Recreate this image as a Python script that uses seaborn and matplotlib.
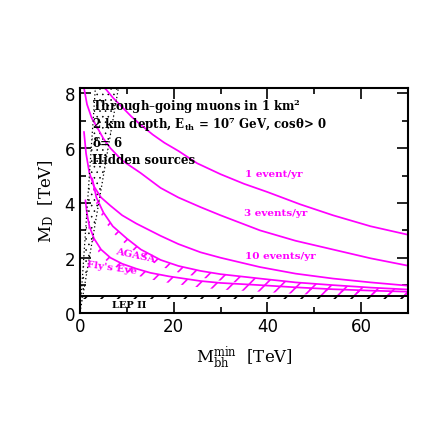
import numpy as np
import pandas as pd
import seaborn as sns
from matplotlib import pyplot as plt

# curves: M_bh^min [TeV] vs M_D [TeV]
one_x = [5.3, 7, 9, 11, 13, 15.5, 18, 21, 25, 30, 35, 40, 47, 54, 62, 70]
one_y = [8.2, 7.85, 7.5, 7.15, 6.85, 6.5, 6.2, 5.9, 5.45, 5.05, 4.7, 4.4, 3.95, 3.55, 3.15, 2.84]

three_x = [0.85, 1.5, 2.5, 3.7, 5, 6.5, 9, 12.9, 17.2, 21, 25.7, 30, 38.4, 46, 54, 62, 70]
three_y = [8.2, 7.6, 7.1, 6.75, 6.35, 6.0, 5.55, 5.1, 4.55, 4.2, 3.85, 3.55, 3.0, 2.62, 2.3, 1.98, 1.71]

ten_x = [0.85, 1.3, 2, 3, 4.5, 6.5, 9, 12, 17.2, 21, 25.7, 30, 38.4, 46, 54, 62, 70]
ten_y = [6.6, 5.8, 5.1, 4.6, 4.2, 3.9, 3.55, 3.25, 2.8, 2.5, 2.2, 2.0, 1.66, 1.42, 1.24, 1.1, 0.98]

agasa_x = [2.6, 3.5, 5, 7, 10, 13, 17.2, 21, 25.7, 30, 38.4, 46, 54, 62, 70]
agasa_y = [4.9, 4.2, 3.65, 3.15, 2.7, 2.3, 1.92, 1.7, 1.52, 1.4, 1.24, 1.1, 1.0, 0.91, 0.84]

fly_x = [1.15, 1.5, 2, 3, 4.5, 6.5, 9, 12, 15, 19, 25.7, 30, 38.4, 46, 54, 62, 70]
fly_y = [4.1, 3.6, 3.15, 2.7, 2.3, 2.0, 1.78, 1.6, 1.45, 1.32, 1.15, 1.08, 1.0, 0.92, 0.85, 0.8, 0.76]

lep_md = 0.62

# dotted region: between M_bh = 0.4 M_D and M_bh = M_D
wedge_md = [0, 8.2]

sns.set_style("ticks")
plt.rcParams['font.family'] = ['DejaVu Serif']
plt.rcParams['mathtext.fontset'] = 'dejavuserif'
plt.rcParams['hatch.linewidth'] = 1.2
for k in ['text.color', 'axes.labelcolor', 'xtick.color', 'ytick.color', 'axes.edgecolor']:
    plt.rcParams[k] = 'black'

fig = plt.figure(figsize=(4.31, 4.31), dpi=100)
ax = fig.add_axes([0.1856, 0.2726, 0.761, 0.521])

mag = '#ff00ff'
for xs, ys in [(one_x, one_y), (three_x, three_y), (ten_x, ten_y),
               (agasa_x, agasa_y), (fly_x, fly_y)]:
    df = pd.DataFrame({'mbh': xs, 'md': ys})
    sns.lineplot(data=df, x='mbh', y='md', color=mag, lw=1.25, ax=ax, sort=False)

# hatched bands below the cosmic ray bounds
for xs, ys in [(agasa_x, agasa_y), (fly_x, fly_y)]:
    ys = np.array(ys)
    ax.fill_between(xs, ys - 0.24, ys, facecolor='none', edgecolor=mag,
                    hatch='//', lw=0)

# LEP II
ax.axhline(lep_md, color='black', lw=1.4)
ax.fill_between([0, 70], lep_md - 0.12, lep_md, facecolor='none',
                edgecolor='black', hatch='//', lw=0)
ax.text(10.5, 0.3, 'LEP II', fontsize=7, fontweight='bold', ha='center', va='center')

# dotted wedge
md = np.array(wedge_md)
wedge = ax.fill_betweenx(md, 0.4 * md, md, facecolor='none', edgecolor='black',
                         hatch='...', lw=0)
if hasattr(wedge, 'set_hatch_linewidth'):
    wedge.set_hatch_linewidth(0.4)
ax.plot(md, md, color='black', ls=(0, (1, 2)), lw=0.9)
ax.plot(0.4 * md, md, color='black', ls=(0, (1, 2)), lw=0.9)

# labels
lab = dict(color=mag, fontsize=7.5, fontweight='bold')
ax.text(35.3, 5.0, '1 event/yr', **lab)
ax.text(35.0, 3.55, '3 events/yr', **lab)
ax.text(35.3, 2.0, '10 events/yr', **lab)
ax.text(7.5, 1.85, 'AGASA', rotation=-12, **lab)
ax.text(1.2, 1.45, "Fly's Eye", rotation=-8, **lab)

lines = ['Through\u2013going muons in 1 km$^\\mathbf{2}$',
         '2 km depth, E$_\\mathbf{th}$ = 10$^\\mathbf{7}$ GeV, cos$\\mathbf{\\theta}$> 0',
         '$\\mathbf{\\delta}$= 6',
         'Hidden sources']
for i, s in enumerate(lines):
    ax.text(0.037, 0.92 - 0.08 * i, s, transform=ax.transAxes, fontsize=8.5,
            fontweight='bold', va='center', ha='left')

ax.set_xlim(0, 70)
ax.set_ylim(0, 8.2)
ax.set_xticks([0, 20, 40, 60])
ax.set_xticks([10, 30, 50, 70], minor=True)
ax.set_yticks([0, 2, 4, 6, 8])
ax.set_yticks([1, 3, 5, 7], minor=True)
ax.tick_params(which='both', direction='in', top=True, right=True, width=1.2)
ax.tick_params(which='major', length=8, labelsize=12)
ax.tick_params(which='minor', length=4)
for t in ax.get_xticklabels() + ax.get_yticklabels():
    t.set_family('DejaVu Sans')
for sp in ax.spines.values():
    sp.set_linewidth(1.5)

ax.set_xlabel('M$_\\mathrm{bh}^\\mathrm{min}$  [TeV]', fontsize=12, labelpad=6)
ax.set_ylabel('M$_\\mathrm{D}$  [TeV]', fontsize=12, labelpad=6)

fig.savefig('out.png', dpi=100)
